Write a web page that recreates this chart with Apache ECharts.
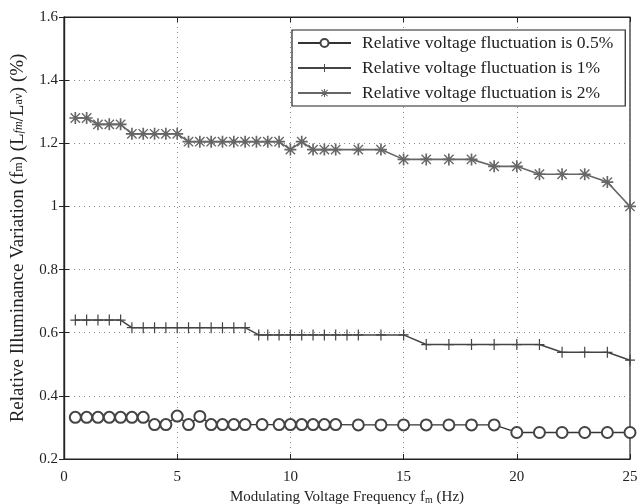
<!DOCTYPE html>
<html>
<head>
<meta charset="utf-8">
<script src="https://cdn.jsdelivr.net/npm/echarts@6/dist/echarts.min.js"></script>
<style>html,body{margin:0;padding:0;background:#fff}#c{width:643px;height:504px}</style>
</head>
<body>
<div id="c"></div>
<script>
// Data
const x05 = [0.5, 1, 1.5, 2, 2.5, 3, 3.5, 4, 4.5, 5, 5.5, 6, 6.5, 7, 7.5, 8, 8.75, 9.5, 10, 10.5, 11, 11.5, 12, 13, 14, 15, 16, 17, 18, 19, 20, 21, 22, 23, 24, 25];
const y05 = [0.332, 0.332, 0.332, 0.332, 0.332, 0.332, 0.332, 0.309, 0.309, 0.336, 0.309, 0.335, 0.309, 0.309, 0.309, 0.309, 0.309, 0.309, 0.309, 0.309, 0.309, 0.309, 0.309, 0.308, 0.308, 0.308, 0.308, 0.308, 0.308, 0.308, 0.284, 0.284, 0.284, 0.284, 0.284, 0.284];
const x1 = [0.5, 1, 1.5, 2, 2.5, 3, 3.5, 4, 4.5, 5, 5.5, 6, 6.5, 7, 7.5, 8, 8.6, 9, 9.5, 10, 10.5, 11, 11.5, 12, 12.5, 13, 14, 15, 16, 17, 18, 19, 20, 21, 22, 23, 24, 25];
const y1 = [0.64, 0.64, 0.64, 0.64, 0.64, 0.616, 0.616, 0.616, 0.616, 0.616, 0.616, 0.616, 0.616, 0.616, 0.616, 0.616, 0.593, 0.593, 0.593, 0.593, 0.593, 0.593, 0.593, 0.593, 0.593, 0.593, 0.593, 0.593, 0.5625, 0.5625, 0.5625, 0.5625, 0.5625, 0.5625, 0.538, 0.538, 0.538, 0.513];
const x2 = [0.5, 1, 1.5, 2, 2.5, 3, 3.5, 4, 4.5, 5, 5.5, 6, 6.5, 7, 7.5, 8, 8.5, 9, 9.5, 10, 10.5, 11, 11.5, 12, 13, 14, 15, 16, 17, 18, 19, 20, 21, 22, 23, 24, 25];
const y2 = [1.28, 1.28, 1.26, 1.26, 1.26, 1.23, 1.23, 1.23, 1.23, 1.23, 1.205, 1.205, 1.205, 1.205, 1.205, 1.205, 1.205, 1.205, 1.205, 1.18, 1.205, 1.18, 1.18, 1.18, 1.18, 1.18, 1.149, 1.149, 1.149, 1.149, 1.127, 1.127, 1.102, 1.102, 1.102, 1.077, 1.0];
const seriesNames = ['Relative voltage fluctuation is 0.5%', 'Relative voltage fluctuation is 1%', 'Relative voltage fluctuation is 2%'];
const xTicks = [0, 5, 10, 15, 20, 25];
const yTicks = [0.2, 0.4, 0.6, 0.8, 1, 1.2, 1.4, 1.6];

function pairs(xs, ys) { return xs.map((x, i) => [x, ys[i]]); }

const plusPath = 'path://M4.4,0 h1.2 v4.4 h4.4 v1.2 h-4.4 v4.4 h-1.2 v-4.4 h-4.4 v-1.2 h4.4 z';
const starPath = 'path://M4.3,0 h1.4 v4.3 h4.3 v1.4 h-4.3 v4.3 h-1.4 v-4.3 h-4.3 v-1.4 h4.3 z M1.5,0.7 L5,4.2 L8.5,0.7 L9.3,1.5 L5.8,5 L9.3,8.5 L8.5,9.3 L5,5.8 L1.5,9.3 L0.7,8.5 L4.2,5 L0.7,1.5 z';

const FONT = 'Liberation Serif';
const chart = echarts.init(document.getElementById('c'), null, {renderer: 'canvas'});
const axisLabelStyle = {fontFamily: FONT, fontSize: 15, color: '#222'};
chart.setOption({
  backgroundColor: '#fff',
  animation: false,
  grid: {left: 64, right: 13, top: 17, bottom: 45, show: true, borderColor: '#222', borderWidth: 1.2, containLabel: false, outerBoundsMode: 'none'},
  legend: {
    left: 292, top: 30, orient: 'vertical',
    data: seriesNames,
    itemWidth: 53, itemHeight: 10, itemGap: 7,
    borderColor: '#222', borderWidth: 1.2, backgroundColor: '#fff',
    padding: [4, 12, 4, 5],
    textStyle: {fontFamily: FONT, fontSize: 17.5, color: '#222', padding: [0, 0, 0, 6]}
  },
  xAxis: [{
    type: 'value', min: 0, max: 25, interval: 5,
    name: 'Modulating Voltage Frequency f{s|m} (Hz)',
    nameLocation: 'middle', nameGap: 29,
    nameTextStyle: {fontFamily: FONT, fontSize: 15, color: '#222', rich: {s: {fontFamily: FONT, fontSize: 10, color: '#222', verticalAlign: 'bottom', padding: [6, 0, 0, 0]}}},
    axisLine: {lineStyle: {color: '#222', width: 1.2}},
    axisTick: {inside: true, length: 5, lineStyle: {color: '#222'}},
    axisLabel: Object.assign({margin: 11, formatter: v => xTicks.includes(v) ? String(v) : ''}, axisLabelStyle),
    splitLine: {show: true, lineStyle: {color: '#888', type: [1, 4], width: 1}}
  }, {
    type: 'value', min: 0, max: 25, interval: 5, position: 'top',
    axisLine: {lineStyle: {color: '#222', width: 1.2}},
    axisTick: {inside: true, length: 5, lineStyle: {color: '#222'}},
    axisLabel: {show: false}, splitLine: {show: false}
  }],
  yAxis: [{
    type: 'value', min: 0.2, max: 1.6, interval: 0.2,
    name: 'Relative Illuminance Variation (f{s|m}) (L{si|fm}/L{s|av}) (%)',
    nameLocation: 'middle', nameGap: 36,
    nameTextStyle: {fontFamily: FONT, fontSize: 19, color: '#222', rich: {
      s: {fontFamily: FONT, fontSize: 12, color: '#222'},
      si: {fontFamily: FONT, fontSize: 12, fontStyle: 'italic', color: '#222'}
    }},
    axisLine: {lineStyle: {color: '#222', width: 1.2}},
    axisTick: {inside: true, length: 5, lineStyle: {color: '#222'}},
    axisLabel: Object.assign({margin: 6, formatter: v => { const r = Math.round(v * 10) / 10; return yTicks.includes(r) ? String(r) : ''; }}, axisLabelStyle),
    splitLine: {show: true, lineStyle: {color: '#888', type: [1, 4], width: 1}}
  }, {
    type: 'value', min: 0.2, max: 1.6, interval: 0.2, position: 'right',
    axisLine: {lineStyle: {color: '#222', width: 1.2}},
    axisTick: {inside: true, length: 5, lineStyle: {color: '#222'}},
    axisLabel: {show: false}, splitLine: {show: false}
  }],
  series: [{
    name: seriesNames[0], type: 'line', data: pairs(x05, y05),
    symbol: 'emptyCircle', symbolSize: 11, showAllSymbol: true,
    lineStyle: {color: '#333', width: 1.3},
    itemStyle: {color: '#444', borderWidth: 1.1}
  }, {
    name: seriesNames[1], type: 'line', data: pairs(x1, y1),
    symbol: plusPath, symbolSize: [10, 11], showAllSymbol: true,
    lineStyle: {color: '#444', width: 1.5},
    itemStyle: {color: '#444'}
  }, {
    name: seriesNames[2], type: 'line', data: pairs(x2, y2),
    symbol: starPath, symbolSize: 12, showAllSymbol: true,
    lineStyle: {color: '#666', width: 1.6},
    itemStyle: {color: '#666'}
  }]
});
</script>
</body>
</html>
